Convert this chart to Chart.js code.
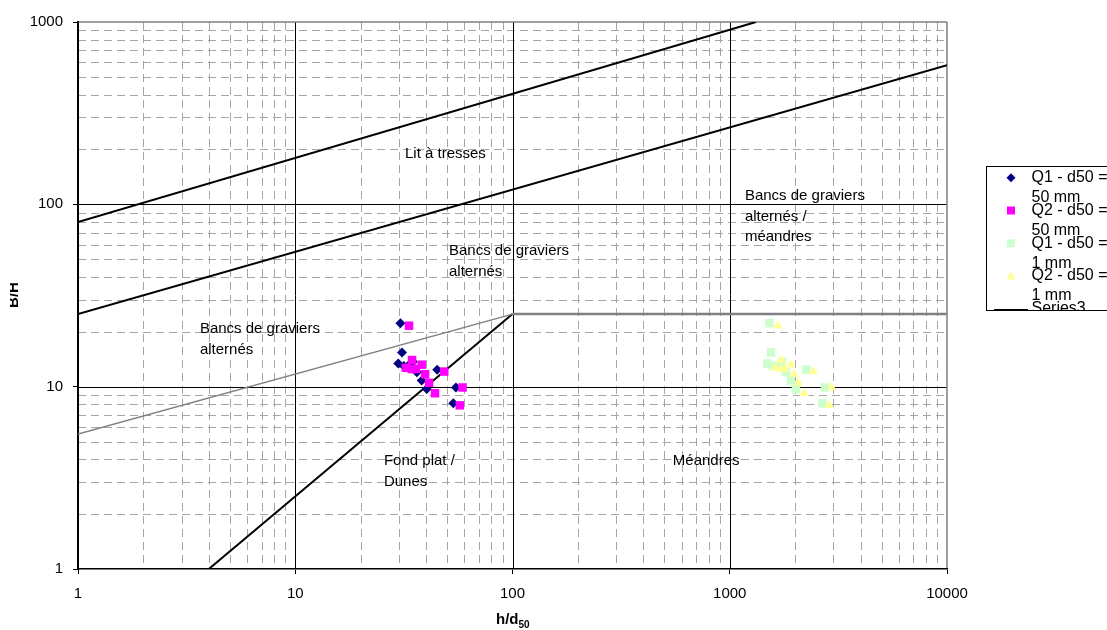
<!DOCTYPE html>
<html lang="fr">
<head>
    <meta charset="UTF-8">
    <title>B/H en fonction de h/d50</title>
    <script src="https://cdn.jsdelivr.net/npm/chart.js"></script>
    <style>
        html, body { margin: 0; padding: 0; background: #fff; }
        .container { width: 1107px; height: 630px; position: relative; }
    </style>
</head>
<body>
    <div class="container"><canvas id="graphe"></canvas></div>

    <script>
        // Q1 et Q2, d50 = 50 mm
        const q1_50_x = [30.5, 31.0, 29.8, 31.6, 33.0, 34.8, 36.3, 45.0, 38.2, 40.3, 54.9, 53.4];
        const q1_50_y = [22.3, 15.4, 13.4, 13.0, 13.0, 13.7, 12.0, 12.4, 10.8, 9.7, 9.9, 8.1];
        const q2_50_x = [33.4, 34.5, 32.3, 34.4, 35.9, 38.2, 39.6, 41.3, 44.0, 48.5, 58.9, 57.2];
        const q2_50_y = [21.6, 14.0, 12.7, 12.5, 12.5, 13.2, 11.7, 10.5, 9.2, 12.1, 9.9, 7.9];

        // Q1 et Q2, d50 = 1 mm
        const q1_1_x = [1525, 1550, 1490, 1580, 1650, 1740, 1815, 2250, 1910, 2015, 2745, 2670];
        const q1_1_y = [22.3, 15.4, 13.4, 13.0, 13.0, 13.7, 12.0, 12.4, 10.8, 9.7, 9.9, 8.1];
        const q2_1_x = [1670, 1725, 1615, 1720, 1795, 1910, 1980, 2065, 2200, 2425, 2945, 2860];
        const q2_1_y = [21.6, 14.0, 12.7, 12.5, 12.5, 13.2, 11.7, 10.5, 9.2, 12.1, 9.9, 7.9];

        // limites entre les domaines
        const limHaute_x = [1, 1320];
        const limHaute_y = [80, 1000];
        const limBasse_x = [1, 10000];
        const limBasse_y = [25, 580];
        const limGrise_x = [1, 100];
        const limGrise_y = [5.5, 25];
        const palier_x = [100, 10000];
        const palier_y = [25, 25];
        const limFond_x = [4, 100];
        const limFond_y = [1, 25];

        const xTicks = [1, 10, 100, 1000, 10000];
        const yTicks = [1, 10, 100, 1000];

        const legendeNoms = ['Q1 - d50 = 50 mm', 'Q2 - d50 = 50 mm', 'Q1 - d50 = 1 mm', 'Q2 - d50 = 1 mm', 'Series3'];

        // textes des domaines : x, y = début de la première ligne (ligne de base)
        const zones = [
            { lignes: ['Lit à tresses'], x: 32, y: 180 },
            { lignes: ['Bancs de graviers', 'alternés'], x: 51, y: 52.8 },
            { lignes: ['Bancs de graviers', 'alternés'], x: 3.64, y: 19.7 },
            { lignes: ['Bancs de graviers', 'alternés /', 'méandres'], x: 1174, y: 105.7 },
            { lignes: ['Fond plat /', 'Dunes'], x: 25.6, y: 3.72 },
            { lignes: ['Méandres'], x: 547, y: 3.72 }
        ];

        const police = 'Liberation Sans, Arial, sans-serif';

        function points(xs, ys) {
            return xs.map((x, i) => ({ x: x, y: ys[i] }));
        }

        function ligne(ctx, x1, y1, x2, y2) {
            ctx.beginPath();
            ctx.moveTo(x1, y1);
            ctx.lineTo(x2, y2);
            ctx.stroke();
        }

        // quadrillage façon Excel : mineur en tirets gris, majeur en noir
        const grille = {
            id: 'grille',
            beforeDraw(chart) {
                const { ctx, chartArea: a, scales } = chart;
                const sx = scales.x, sy = scales.y;
                ctx.save();
                ctx.fillStyle = '#fff';
                ctx.fillRect(0, 0, chart.width, chart.height);
                ctx.lineWidth = 1;
                ctx.strokeStyle = '#a6a6a6';
                ctx.setLineDash([8, 5]);
                for (let e = 0; e < 4; e++) {
                    for (let k = 2; k <= 9; k++) {
                        const px = Math.round(sx.getPixelForValue(k * 10 ** e)) + 0.5;
                        ligne(ctx, px, a.top, px, a.bottom);
                    }
                }
                for (let e = 0; e < 3; e++) {
                    for (let k = 2; k <= 9; k++) {
                        const py = Math.round(sy.getPixelForValue(k * 10 ** e)) + 0.5;
                        ligne(ctx, a.left, py, a.right, py);
                    }
                }
                ctx.setLineDash([]);
                ctx.strokeStyle = '#000';
                [10, 100, 1000].forEach(v => {
                    const px = Math.round(sx.getPixelForValue(v)) + 0.5;
                    ligne(ctx, px, a.top, px, a.bottom);
                });
                [10, 100].forEach(v => {
                    const py = Math.round(sy.getPixelForValue(v)) + 0.5;
                    ligne(ctx, a.left, py, a.right, py);
                });
                ctx.strokeStyle = '#808080';
                ctx.lineWidth = 1.5;
                ligne(ctx, a.left, a.top, a.right, a.top);
                ligne(ctx, a.right, a.top, a.right, a.bottom);
                ctx.restore();
            }
        };

        function marqueur(ctx, style, x, y, couleur) {
            ctx.fillStyle = couleur;
            ctx.beginPath();
            if (style === 'losange') {
                ctx.moveTo(x, y - 4.5); ctx.lineTo(x + 4.5, y);
                ctx.lineTo(x, y + 4.5); ctx.lineTo(x - 4.5, y);
            } else if (style === 'carre') {
                ctx.rect(x - 4, y - 4, 8, 8);
            } else {
                ctx.moveTo(x, y - 5); ctx.lineTo(x + 4.5, y + 3.5); ctx.lineTo(x - 4.5, y + 3.5);
            }
            ctx.closePath();
            ctx.fill();
        }

        const habillage = {
            id: 'habillage',
            afterDraw(chart) {
                const { ctx, scales } = chart;
                const sx = scales.x, sy = scales.y;
                ctx.save();

                // textes des domaines
                ctx.fillStyle = '#000';
                ctx.font = '15px ' + police;
                ctx.textAlign = 'left';
                ctx.textBaseline = 'alphabetic';
                zones.forEach(z => {
                    const px = sx.getPixelForValue(z.x);
                    const py = sy.getPixelForValue(z.y);
                    z.lignes.forEach((t, i) => ctx.fillText(t, px, py + i * 20.7));
                });

                // titre de l'axe x : h/d50
                ctx.font = 'bold 15px ' + police;
                ctx.fillText('h/d', 496, 624);
                const w = ctx.measureText('h/d').width;
                ctx.font = 'bold 10px ' + police;
                ctx.fillText('50', 496 + w, 628);

                // titre de l'axe y : B/H (coupé à gauche comme dans l'original)
                ctx.save();
                ctx.beginPath();
                ctx.rect(10, 250, 30, 100);
                ctx.clip();
                ctx.translate(17.5, 295);
                ctx.rotate(-Math.PI / 2);
                ctx.font = 'bold 15px ' + police;
                ctx.textAlign = 'center';
                ctx.fillText('B/H', 0, 0);
                ctx.restore();

                // légende
                const bx = 986.5, by = 166.5, bh = 144;
                ctx.fillStyle = '#fff';
                ctx.fillRect(bx, by, 140, bh);
                ctx.strokeStyle = '#000';
                ctx.lineWidth = 1;
                ctx.strokeRect(bx, by, 140, bh);
                ctx.beginPath();
                ctx.rect(bx + 0.5, by + 0.5, 140, bh - 1);
                ctx.clip();
                const styles = [['losange', '#000080'], ['carre', '#ff00ff'], ['carre', '#ccffcc'], ['triangle', '#ffff99']];
                ctx.font = '16px ' + police;
                ctx.fillStyle = '#000';
                legendeNoms.forEach((nom, i) => {
                    const base = 182.3 + i * 32.7;
                    if (i < 4) {
                        marqueur(ctx, styles[i][0], 1011, base - 4.5, styles[i][1]);
                        const coupe = nom.indexOf('= ') + 1;
                        ctx.fillStyle = '#000';
                        ctx.fillText(nom.slice(0, coupe), 1031.5, base);
                        ctx.fillText(nom.slice(coupe + 1), 1031.5, base + 20);
                    } else {
                        ctx.strokeStyle = '#000';
                        ctx.lineWidth = 2;
                        ligne(ctx, 994, base - 3, 1028, base - 3);
                        ctx.fillText(nom, 1031.5, base);
                    }
                });
                ctx.restore();
            }
        };

        function serieLigne(label, xs, ys, couleur, epaisseur) {
            return {
                label: label,
                data: points(xs, ys),
                showLine: true,
                borderColor: couleur,
                borderWidth: epaisseur,
                pointRadius: 0,
                fill: false,
                order: 10
            };
        }

        new Chart(document.getElementById('graphe'), {
            type: 'scatter',
            data: {
                datasets: [
                    { label: legendeNoms[0], data: points(q1_50_x, q1_50_y), pointStyle: 'rectRot', pointRadius: 5, backgroundColor: '#000080', borderWidth: 0, order: 2 },
                    { label: legendeNoms[1], data: points(q2_50_x, q2_50_y), pointStyle: 'rect', pointRadius: 6, backgroundColor: '#ff00ff', borderWidth: 0, order: 1 },
                    { label: legendeNoms[2], data: points(q1_1_x, q1_1_y), pointStyle: 'rect', pointRadius: 6, backgroundColor: '#ccffcc', borderWidth: 0, order: 4 },
                    { label: legendeNoms[3], data: points(q2_1_x, q2_1_y), pointStyle: 'triangle', pointRadius: 5.5, backgroundColor: '#ffff99', borderWidth: 0, order: 3 },
                    serieLigne('Series3', limHaute_x, limHaute_y, '#000', 2),
                    serieLigne('Series4', limBasse_x, limBasse_y, '#000', 2),
                    serieLigne('Series5', limGrise_x, limGrise_y, '#808080', 1.5),
                    serieLigne('Series6', palier_x, palier_y, '#808080', 2.5),
                    serieLigne('Series7', limFond_x, limFond_y, '#000', 2)
                ]
            },
            options: {
                responsive: true,
                maintainAspectRatio: false,
                animation: false,
                devicePixelRatio: 1,
                layout: { padding: { left: 0, top: 22, right: 160, bottom: 0 } },
                plugins: {
                    legend: { display: false },
                    tooltip: { enabled: false }
                },
                scales: {
                    x: {
                        type: 'logarithmic',
                        min: 1,
                        max: 10000,
                        afterFit: s => { s.height = 61; },
                        border: { display: true, color: '#000', width: 1.5 },
                        grid: {
                            drawOnChartArea: false,
                            drawTicks: true,
                            tickLength: 5,
                            color: c => xTicks.includes(c.tick && c.tick.value) ? '#000' : 'rgba(0,0,0,0)'
                        },
                        ticks: {
                            autoSkip: false,
                            maxRotation: 0,
                            padding: 11,
                            color: '#000',
                            font: { family: police, size: 15 },
                            callback: v => xTicks.includes(v) ? String(v) : ''
                        }
                    },
                    y: {
                        type: 'logarithmic',
                        min: 1,
                        max: 1000,
                        afterFit: s => { s.width = 78; },
                        border: { display: true, color: '#000', width: 2 },
                        grid: {
                            drawOnChartArea: false,
                            drawTicks: true,
                            tickLength: 5,
                            color: c => yTicks.includes(c.tick && c.tick.value) ? '#000' : 'rgba(0,0,0,0)'
                        },
                        ticks: {
                            autoSkip: false,
                            padding: 10,
                            color: '#000',
                            font: { family: police, size: 15 },
                            callback: v => yTicks.includes(v) ? String(v) : ''
                        }
                    }
                }
            },
            plugins: [grille, habillage]
        });
    </script>
</body>
</html>
